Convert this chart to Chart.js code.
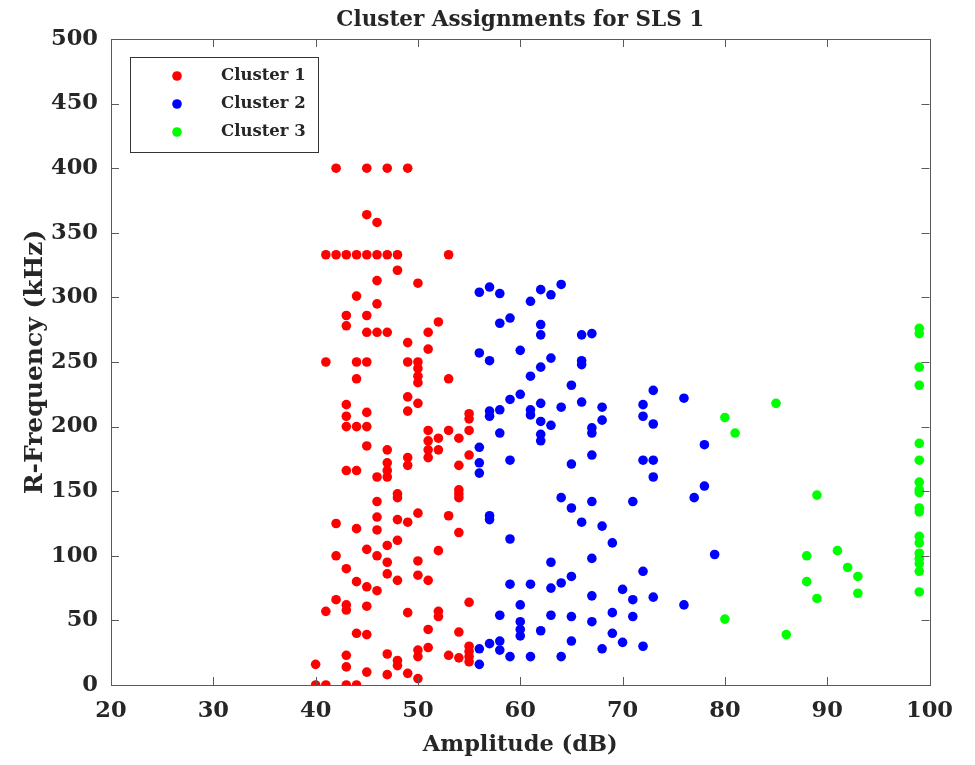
<!DOCTYPE html>
<html>
<head>
<meta charset="utf-8">
<script src="https://cdn.jsdelivr.net/npm/chart.js@4"></script>
<style>
  html, body { margin: 0; padding: 0; background: #fff; }
  #wrap { width: 975px; height: 765px; }
</style>
</head>
<body>
<div id="wrap"><canvas id="clusterChart" width="975" height="765"></canvas></div>
<script>
// amplitude (dB) and R-frequency (kHz) for each cluster, read column by column
const cluster1Amp = [
  40, 40,
  41, 41, 41, 41,
  42, 42, 42, 42, 42,
  43, 43, 43, 43, 43, 43, 43, 43, 43, 43, 43, 43, 43,
  44, 44, 44, 44, 44, 44, 44, 44, 44, 44,
  45, 45, 45, 45, 45, 45, 45, 45, 45, 45, 45, 45, 45, 45,
  46, 46, 46, 46, 46, 46, 46, 46, 46, 46, 46,
  47, 47, 47, 47, 47, 47, 47, 47, 47, 47, 47, 47,
  48, 48, 48, 48, 48, 48, 48, 48, 48,
  49, 49, 49, 49, 49, 49, 49, 49, 49, 49,
  50, 50, 50, 50, 50, 50, 50, 50, 50, 50, 50, 50,
  51, 51, 51, 51, 51, 51, 51, 51, 51,
  52, 52, 52, 52, 52, 52,
  53, 53, 53, 53, 53,
  54, 54, 54, 54, 54, 54, 54, 54,
  55, 55, 55, 55, 55, 55, 55, 55, 55
];
const cluster1Freq = [
  16, 0,
  333, 250, 57, 0,
  400, 333, 125, 100, 66,
  333, 286, 278, 217, 208, 200, 166, 90, 62, 58, 23, 14, 0,
  333, 301, 250, 237, 200, 166, 121, 80, 40, 0,
  400, 364, 333, 286, 273, 250, 211, 200, 185, 105, 76, 61, 39, 10,
  358, 333, 313, 295, 273, 161, 142, 130, 120, 100, 73,
  400, 333, 273, 182, 172, 166, 161, 108, 95, 86, 24, 8,
  333, 321, 148, 145, 128, 112, 81, 19, 15,
  400, 265, 250, 223, 212, 176, 170, 126, 56, 9,
  311, 250, 245, 239, 234, 218, 133, 96, 85, 27, 22, 5,
  273, 260, 197, 189, 182, 176, 81, 43, 29,
  281, 191, 182, 104, 57, 53,
  333, 237, 197, 131, 23,
  191, 170, 151, 148, 145, 118, 41, 21,
  210, 206, 197, 178, 64, 30, 26, 22, 18
];

const cluster2Amp = [
  56, 56, 56, 56, 56, 56, 56,
  57, 57, 57, 57, 57, 57, 57,
  58, 58, 58, 58, 58, 58, 58,
  59, 59, 59, 59, 59, 59,
  60, 60, 60, 60, 60, 60,
  61, 61, 61, 61, 61, 61,
  62, 62, 62, 62, 62, 62, 62, 62, 62,
  63, 63, 63, 63, 63, 63,
  64, 64, 64, 64, 64,
  65, 65, 65, 65, 65, 65,
  66, 66, 66, 66, 66,
  67, 67, 67, 67, 67, 67, 67, 67,
  68, 68, 68, 68,
  69, 69, 69,
  70, 70,
  71, 71, 71,
  72, 72, 72, 72, 72,
  73, 73, 73, 73, 73,
  76, 76,
  77,
  78, 78,
  79
];
const cluster2Freq = [
  304, 257, 184, 172, 164, 28, 16,
  308, 251, 212, 208, 131, 128, 32,
  303, 280, 213, 195, 54, 34, 27,
  284, 221, 174, 113, 78, 22,
  259, 225, 62, 49, 43, 38,
  297, 239, 213, 209, 78, 22,
  306, 279, 271, 246, 218, 204, 194, 189, 42,
  302, 253, 201, 95, 75, 54,
  310, 215, 145, 79, 22,
  232, 171, 137, 84, 53, 34,
  271, 251, 248, 219, 126,
  272, 199, 195, 178, 142, 98, 69, 49,
  215, 205, 123, 28,
  110, 56, 40,
  74, 33,
  142, 66, 53,
  217, 208, 174, 88, 30,
  228, 202, 174, 161, 68,
  222, 62,
  145,
  186, 154,
  101
];

const cluster3Amp = [
  80, 80,
  81,
  85,
  86,
  88, 88,
  89, 89,
  91,
  92,
  93, 93,
  99, 99, 99, 99, 99, 99, 99, 99, 99, 99, 99, 99, 99, 99, 99, 99, 99, 99
];
const cluster3Freq = [
  207, 51,
  195,
  218,
  39,
  100, 80,
  147, 67,
  104,
  91,
  84, 71,
  276, 272, 246, 232, 187, 174, 157, 151, 149, 137, 134, 115, 110, 102, 98, 94, 88, 72
];

const clusterNames = ['Cluster 1', 'Cluster 2', 'Cluster 3'];
const clusterColors = ['#ff0000', '#0000ff', '#00ff00'];

const xTicks = [20, 30, 40, 50, 60, 70, 80, 90, 100];
const yTicks = [0, 50, 100, 150, 200, 250, 300, 350, 400, 450, 500];

const FONT = "'DejaVu Serif', 'Liberation Serif', serif";
const AXIS_COLOR = '#5a5a5a';
const TEXT_COLOR = '#262626';

function toPoints(amp, freq) {
  return amp.map((a, i) => ({ x: a, y: freq[i] }));
}

// box round the plot and inward ticks on all four sides, like the original
const axesBox = {
  id: 'axesBox',
  afterDatasetsDraw(chart) {
    const { ctx, chartArea: a, scales } = chart;
    const len = 8;
    ctx.save();
    ctx.strokeStyle = AXIS_COLOR;
    ctx.lineWidth = 1;
    ctx.strokeRect(Math.round(a.left) + 0.5, Math.round(a.top) + 0.5,
      Math.round(a.right - a.left), Math.round(a.bottom - a.top));
    ctx.beginPath();
    xTicks.forEach(v => {
      const px = Math.round(scales.x.getPixelForValue(v)) + 0.5;
      ctx.moveTo(px, a.bottom); ctx.lineTo(px, a.bottom - len);
      ctx.moveTo(px, a.top); ctx.lineTo(px, a.top + len);
    });
    yTicks.forEach(v => {
      const py = Math.round(scales.y.getPixelForValue(v)) + 0.5;
      ctx.moveTo(a.left, py); ctx.lineTo(a.left + len, py);
      ctx.moveTo(a.right, py); ctx.lineTo(a.right - len, py);
    });
    ctx.stroke();
    ctx.restore();
  }
};

// legend in the upper left corner of the axes
const boxLegend = {
  id: 'boxLegend',
  afterDraw(chart) {
    const { ctx, chartArea: a } = chart;
    const left = a.left + 19, top = a.top + 18;
    const w = 188, h = 95;
    ctx.save();
    ctx.fillStyle = '#fff';
    ctx.fillRect(left, top, w, h);
    ctx.strokeStyle = '#333';
    ctx.lineWidth = 1;
    ctx.strokeRect(Math.round(left) + 0.5, Math.round(top) + 0.5, w, h);
    ctx.font = 'bold 16.5px ' + FONT;
    ctx.textBaseline = 'middle';
    chart.data.datasets.forEach((ds, i) => {
      const y = top + 19 + i * 28;
      ctx.fillStyle = ds.backgroundColor;
      ctx.beginPath();
      ctx.arc(left + 47, y, 4.8, 0, Math.PI * 2);
      ctx.fill();
      ctx.fillStyle = TEXT_COLOR;
      ctx.fillText(ds.label, left + 91, y);
    });
    ctx.restore();
  }
};

const datasets = [
  toPoints(cluster1Amp, cluster1Freq),
  toPoints(cluster2Amp, cluster2Freq),
  toPoints(cluster3Amp, cluster3Freq)
].map((pts, i) => ({
  label: clusterNames[i],
  data: pts,
  backgroundColor: clusterColors[i],
  borderColor: clusterColors[i],
  borderWidth: 0,
  pointRadius: 4.8,
  pointHoverRadius: 4.8
}));

const ctx = document.getElementById('clusterChart');

const chart = new Chart(ctx, {
  type: 'scatter',
  data: { datasets },
  plugins: [axesBox, boxLegend],
  options: {
    responsive: false,
    animation: false,
    layout: { padding: { left: 0, right: 45.5, top: 0, bottom: 0 } },
    plugins: {
      legend: { display: false },
      tooltip: { enabled: false },
      title: {
        display: true,
        fullSize: false,
        text: 'Cluster Assignments for SLS 1',
        color: TEXT_COLOR,
        font: { family: FONT, size: 21.5, weight: 'bold', lineHeight: 1.2 },
        padding: { top: 8, bottom: 5.2 }
      }
    },
    scales: {
      x: {
        type: 'linear',
        min: 20,
        max: 100,
        afterFit: s => { s.height = 80; },
        afterBuildTicks: s => { s.ticks = xTicks.map(v => ({ value: v })); },
        grid: { display: false, drawTicks: false },
        border: { display: false },
        ticks: {
          color: TEXT_COLOR,
          padding: 13,
          maxRotation: 0,
          font: { family: FONT, size: 22.5, weight: 'bold' }
        },
        title: {
          display: true,
          text: 'Amplitude (dB)',
          color: TEXT_COLOR,
          font: { family: FONT, size: 22.5, weight: 'bold', lineHeight: 1.2 },
          padding: { top: 0, bottom: 6.5 }
        }
      },
      y: {
        type: 'linear',
        min: 0,
        max: 500,
        afterFit: s => { s.width = 111; },
        afterBuildTicks: s => { s.ticks = yTicks.map(v => ({ value: v })); },
        grid: { display: false, drawTicks: false },
        border: { display: false },
        ticks: {
          color: TEXT_COLOR,
          padding: 13,
          font: { family: FONT, size: 22.5, weight: 'bold' }
        },
        title: {
          display: true,
          text: 'R-Frequency (kHz)',
          color: TEXT_COLOR,
          font: { family: FONT, size: 25, weight: 'bold', lineHeight: 1.2 },
          padding: { top: 20, bottom: 0 }
        }
      }
    }
  }
});
</script>
</body>
</html>
